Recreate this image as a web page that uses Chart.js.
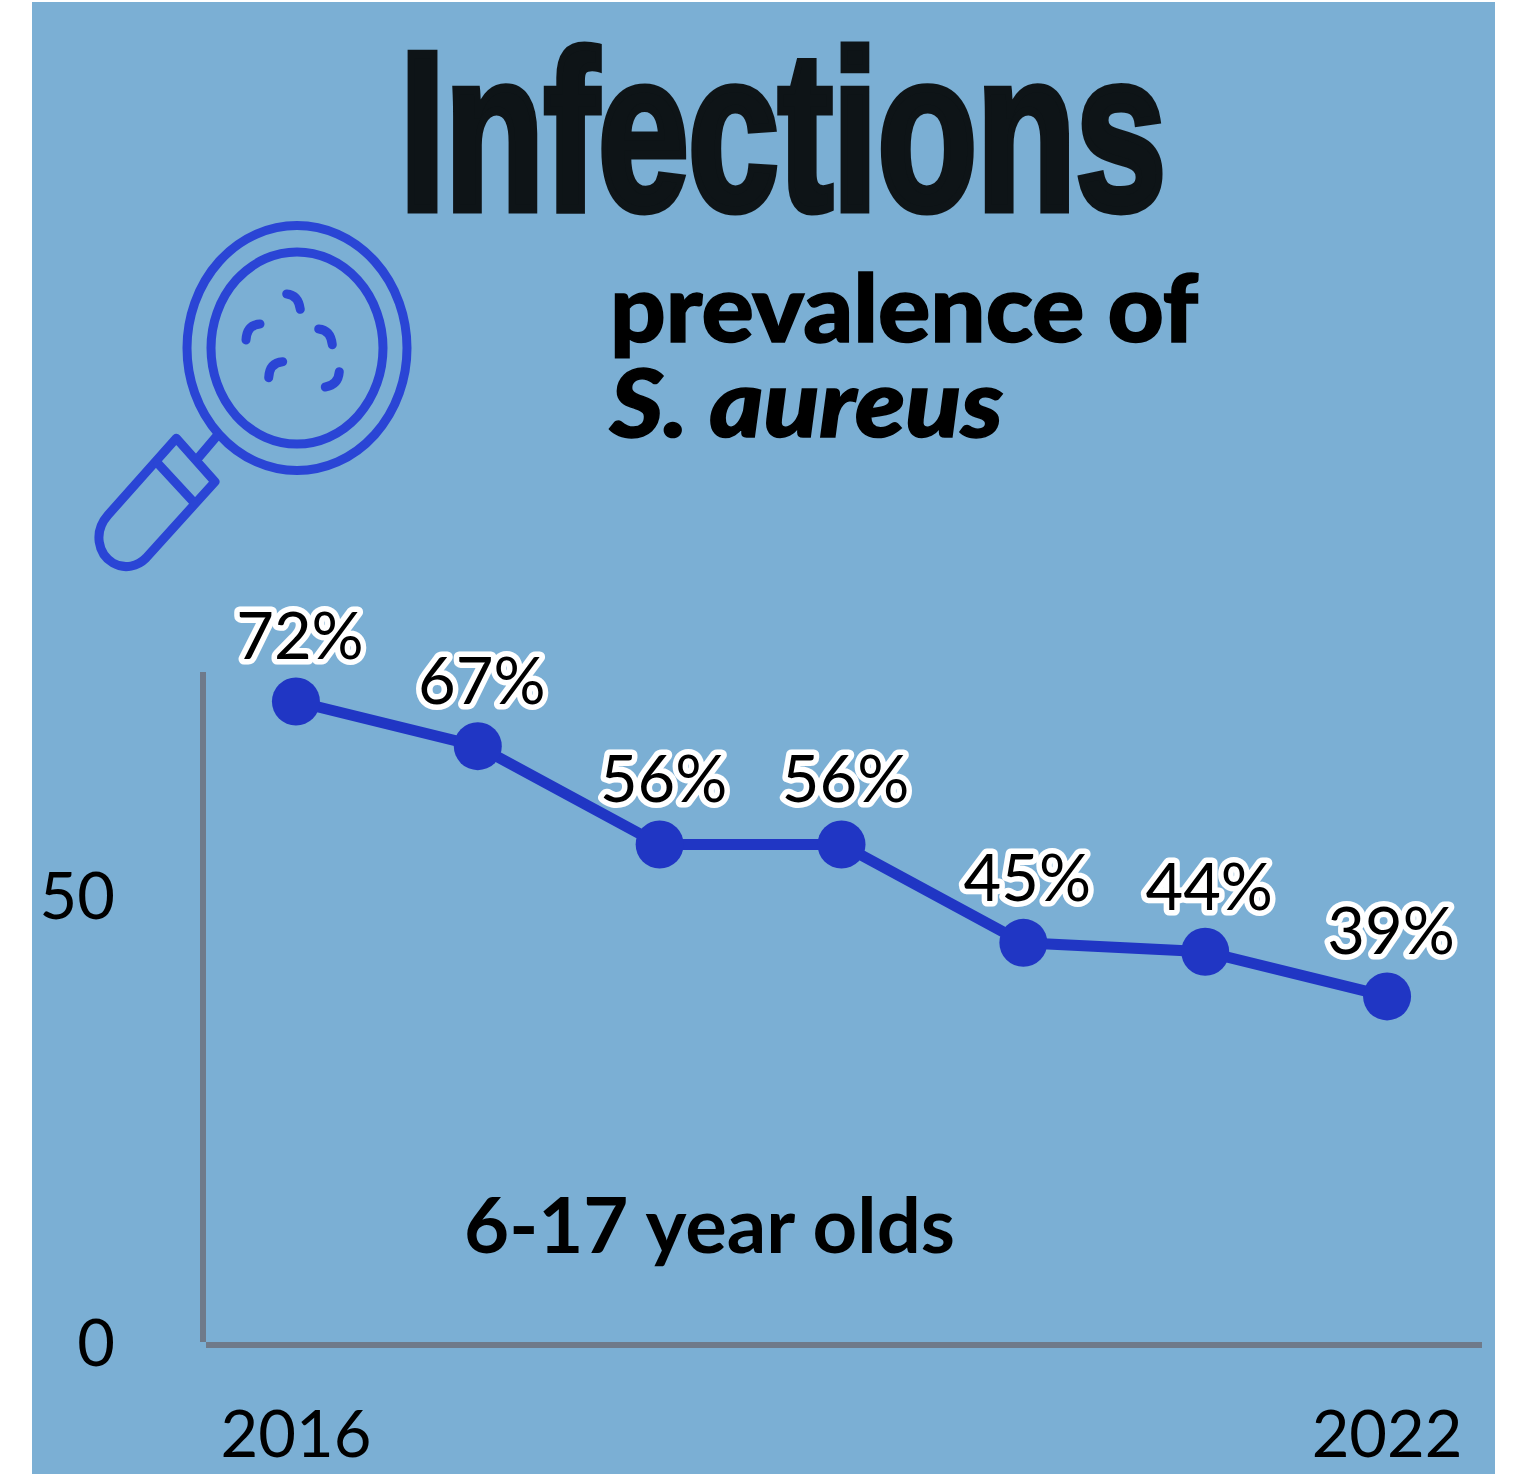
<!DOCTYPE html>
<html>
<head>
<meta charset="utf-8">
<style>
html,body{margin:0;padding:0;background:#fff;overflow:hidden}
#wrap{position:relative;width:1528px;height:1474px}
canvas{display:block;position:absolute;left:0;top:0}
svg{position:absolute;left:0;top:0}
</style>
<script src="https://cdn.jsdelivr.net/npm/chart.js@4/dist/chart.umd.min.js"></script>
</head>
<body>
<div id="wrap">
<canvas id="c" width="1528" height="1474"></canvas>
<svg width="1528" height="1474" viewBox="0 0 1528 1474">
  <text x="400" y="209" textLength="766" lengthAdjust="spacingAndGlyphs" style="font:bold 225px 'Liberation Sans Narrow','Liberation Sans';fill:#0e1417;stroke:#0e1417;stroke-width:9px;stroke-linejoin:miter">Infections</text>
  <text x="610" y="342" textLength="588" lengthAdjust="spacingAndGlyphs" style="font:900 94px Lato;fill:#000;stroke:#000;stroke-width:1.5px">prevalence of</text>
  <text x="610" y="437" textLength="393" lengthAdjust="spacingAndGlyphs" style="font:italic 900 94px Lato;fill:#000;stroke:#000;stroke-width:1.5px">S. aureus</text>
  <text x="464" y="1253" textLength="491" lengthAdjust="spacingAndGlyphs" style="font:700 77px Lato;fill:#000">6-17 year olds</text>
  <g fill="none" stroke="#2a45d5" stroke-width="9" stroke-linecap="round" stroke-linejoin="round">
    <ellipse cx="297" cy="348" rx="110" ry="122.5"/>
    <ellipse cx="297" cy="348" rx="86" ry="96"/>
    <path d="M216 437L199 457"/>
    <path d="M215 481.7L176.3 438.3L108 515C93 532 98 554 113 563C125 570 138 566 146 558Z"/>
    <path d="M157.7 463.3L193.3 501.7"/>
    <path d="M286.7 294Q298.3 295 300.3 309.3"/>
    <path d="M260 324Q246.7 325 246 340"/>
    <path d="M318.7 329Q330.7 330 332.3 344.7"/>
    <path d="M282.7 361.7Q269.3 362.7 268.7 377.7"/>
    <path d="M339.3 371.7Q338.3 385 325.3 387"/>
  </g>
</svg>
</div>
<script>
const categories = ['2016','2017','2018','2019','2020','2021','2022'];
const prevalence = [72,67,56,56,45,44,39];
const xTickLabels = ['2016','2022'];
const yTickValues = [0,50];

const decor = {
  id:'decor',
  beforeDraw(chart){
    const c = chart.ctx;
    c.save();
    c.fillStyle = '#7bafd4';
    c.fillRect(32,2,1463,1472);
    c.restore();
  },
  beforeDatasetsDraw(chart){
    const {ctx:c, scales:{x,y}} = chart;
    c.save();
    c.fillStyle = '#6f7a8a';
    c.fillRect(x.left-5, y.top, 6, y.getPixelForValue(0)-y.top-3);
    c.fillRect(x.left+1, y.getPixelForValue(0)-3, x.right-x.left+3, 6);
    c.restore();
  },
  afterDatasetsDraw(chart){
    const c = chart.ctx, meta = chart.getDatasetMeta(0);
    c.save();
    c.font = '400 65px Lato';
    c.textAlign = 'center';
    c.textBaseline = 'alphabetic';
    c.lineJoin = 'round';
    meta.data.forEach((p,i)=>{
      const s = prevalence[i]+'%';
      c.strokeStyle = '#fff';
      c.lineWidth = 11;
      c.strokeText(s,p.x+4,p.y-42);
      c.fillStyle = '#000';
      c.fillText(s,p.x+4,p.y-42);
    });
    c.restore();
  }
};

new Chart(document.getElementById('c'),{
  type:'line',
  data:{labels:categories,datasets:[{
    data:prevalence,
    borderColor:'#2036c4',
    backgroundColor:'#2036c4',
    pointBackgroundColor:'#2036c4',
    pointBorderColor:'#2036c4',
    borderWidth:11,
    pointRadius:24,
    pointBorderWidth:0,
    tension:0,
    clip:false
  }]},
  options:{
    responsive:false,
    animation:false,
    devicePixelRatio:1,
    layout:{padding:{left:0,right:50,top:672,bottom:0}},
    plugins:{legend:{display:false},title:{display:false},tooltip:{enabled:false}},
    scales:{
      x:{
        offset:true,
        grid:{display:false,drawTicks:false},
        border:{display:false},
        afterFit(s){s.height=129;},
        ticks:{
          autoSkip:false,maxRotation:0,minRotation:0,padding:52,
          color:'#000',font:{family:'Lato',size:65},
          callback(v){const l=this.getLabelForValue(v);return xTickLabels.includes(l)?l:'';}
        }
      },
      y:{
        min:0,max:75.3,
        grid:{display:false,drawTicks:false},
        border:{display:false},
        afterFit(s){s.width=205;},
        afterBuildTicks(s){s.ticks=yTickValues.map(v=>({value:v}));},
        ticks:{padding:90,color:'#000',font:{family:'Lato',size:65}}
      }
    }
  },
  plugins:[decor]
});
</script>
</body>
</html>
